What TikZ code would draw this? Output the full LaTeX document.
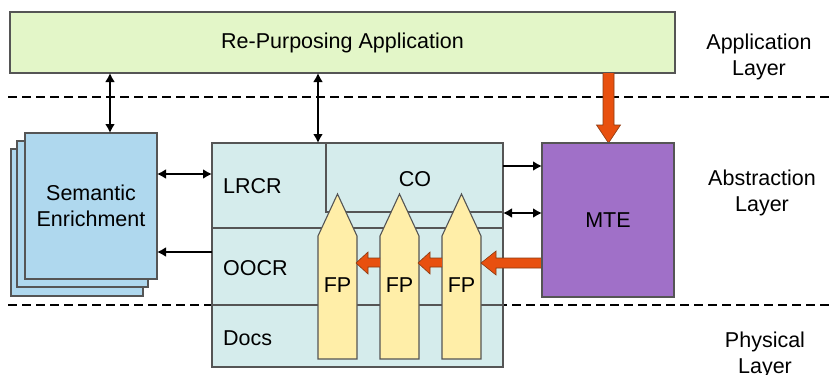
\documentclass[tikz,border=0pt]{standalone}
\usepackage{fontspec}
\setmainfont{Liberation Sans}
\usetikzlibrary{arrows.meta}
\definecolor{appgreen}{HTML}{E3F6C8}
\definecolor{semblue}{HTML}{AFD8EE}
\definecolor{corecyan}{HTML}{D5ECEC}
\definecolor{mtepurple}{HTML}{A070C8}
\definecolor{fpyellow}{HTML}{FFEEA8}
\definecolor{orangearr}{HTML}{E8500F}
\definecolor{orangedark}{HTML}{8A3A10}
\definecolor{edgegray}{HTML}{555555}
\begin{document}
\begin{tikzpicture}[x=1pt,y=-1pt,
  txt/.style={font=\fontsize{21.5}{26.5}\selectfont, align=center, inner sep=0pt},
  box/.style={txt, draw=edgegray, line width=1.1pt, outer sep=0pt},
  conn/.style={line width=2pt, -{Latex[length=9pt,width=10pt]}},
  biconn/.style={line width=2pt, {Latex[length=9pt,width=10pt]}-{Latex[length=9pt,width=10pt]}},
  fatfill/.style={fill=orangearr},
  fatedge/.style={draw=orangedark, line width=0.6pt, line join=miter},
  fpbox/.style={draw=edgegray, line width=1.1pt, fill=fpyellow, line join=miter},
  layerline/.style={dash pattern=on 9pt off 5pt, line width=1.5pt}]
\useasboundingbox (0,0) rectangle (831,375);

% layer separators
\draw[layerline] (8,97) coordinate (l1a) -- (831,97) coordinate (l1b);
\draw[layerline] (8,305) coordinate (l2a) -- (831,305) coordinate (l2b);

% application box
\node[box, fill=appgreen, minimum width=665pt, minimum height=61pt] (app) at (342.5,42.5) {Re-Purposing Application};

% semantic enrichment stack
\node[box, fill=semblue, minimum width=132pt, minimum height=147pt] (sem3) at (77,222.5) {};
\node[box, fill=semblue, minimum width=131pt, minimum height=146pt] (sem2) at (82.5,214) {};
\node[box, fill=semblue, minimum width=132pt, minimum height=146pt] (sem) at (91,206) {Semantic\\Enrichment};

% core block
\node[box, fill=corecyan, minimum width=291pt, minimum height=224pt] (core) at (357.5,255) {};
\draw[edgegray, line width=1.1pt] (core.west |- 0,228) -- (core.east |- 0,228);
\draw[edgegray, line width=1.1pt] (core.west |- 0,305) -- (core.east |- 0,305);
\draw[edgegray, line width=1.1pt] (326,0 |- core.north) -- (326,212) -- (core.east |- 0,212);
\node[txt, anchor=west] (lrcr) at (223,186) {LRCR};
\node[txt] (co) at (415,179) {CO};
\node[txt, anchor=west] (oocr) at (223,268) {OOCR};
\node[txt, anchor=west] (docs) at (223,338) {Docs};

% FP pointers
\foreach \x/\n in {318/1,380/2,442/3}{
  \draw[fpbox] (\x,359) -- (\x,236) -- (\x+19.5,194) -- (\x+39,236) -- (\x+39,359) -- cycle;
  \node[txt] (fp\n) at (\x+19.5,285) {FP};
}

% orange arrows
\fill[fatfill] (542,258) -- (496,258) -- (496,251) -- (481,263) -- (496,275) -- (496,268) -- (542,268) -- cycle;
\draw[fatedge] (542,258) -- (496,258) -- (496,251) -- (481,263) -- (496,275) -- (496,268) -- (542,268);
\foreach \x in {442,380}{
  \fill[fatfill] (\x,258) -- (\x-12,258) -- (\x-12,252) -- (\x-24,263) -- (\x-12,274) -- (\x-12,267) -- (\x,267) -- cycle;
  \draw[fatedge] (\x,258) -- (\x-12,258) -- (\x-12,252) -- (\x-24,263) -- (\x-12,274) -- (\x-12,267) -- (\x,267);
}
\fill[fatfill] (603,73) -- (603,125) -- (596.5,125) -- (608.5,143) -- (620.5,125) -- (614,125) -- (614,73) -- cycle;
\draw[fatedge] (603,73) -- (603,125) -- (596.5,125) -- (608.5,143) -- (620.5,125) -- (614,125) -- (614,73);

% MTE
\node[box, fill=mtepurple, minimum width=132pt, minimum height=154pt] (mte) at (608,220) {MTE};

% black connectors
\draw[biconn] (110,0 |- app.south) -- (110,0 |- sem.north);
\draw[biconn] (318,0 |- app.south) -- (318,0 |- core.north);
\draw[biconn] (sem.east |- 0,174) -- (core.west |- 0,174);
\draw[conn] (core.west |- 0,252) -- (sem.east |- 0,252);
\draw[conn] (core.east |- 0,166) -- (mte.west |- 0,166);
\draw[biconn] (core.east |- 0,213) -- (mte.west |- 0,213);

% layer labels
\node[txt] (lapp) at (759,57) {Application\\Layer};
\node[txt] (labs) at (762,193) {Abstraction\\Layer};
\node[txt] (lphy) at (765,355) {Physical\\Layer};
\end{tikzpicture}
\end{document}
